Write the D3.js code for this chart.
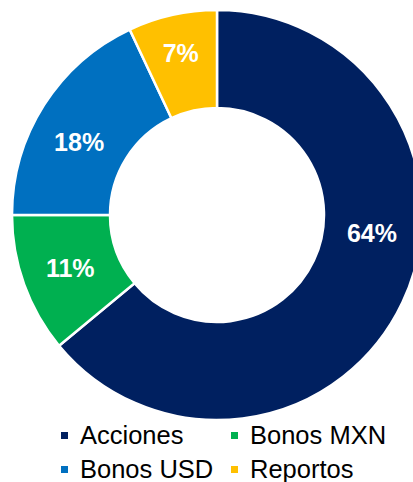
<!DOCTYPE html>
<html>
<head>
<meta charset="utf-8">
<script src="https://cdn.jsdelivr.net/npm/d3@7"></script>
<style>
  html, body { margin: 0; padding: 0; background: #fff; }
  svg { display: block; font-family: "Liberation Sans", Arial, sans-serif; }
</style>
</head>
<body>
<div id="chart"></div>
<script>
var categories = ["Acciones", "Bonos MXN", "Bonos USD", "Reportos"];
var values = [64, 11, 18, 7];
var colors = ["#002060", "#00B050", "#0070C0", "#FFC000"];
var legendOrder = ["Acciones", "Bonos MXN", "Bonos USD", "Reportos"];

var width = 413, height = 482;
var cx = 217, cy = 215;
var outerR = 205, innerR = 107;

var svg = d3.select("#chart").append("svg")
    .attr("width", width)
    .attr("height", height);

var data = categories.map(function(c, i) {
    return {name: c, value: values[i], color: colors[i]};
});

var pie = d3.pie()
    .value(function(d) { return d.value; })
    .sort(null);

var arc = d3.arc()
    .innerRadius(innerR)
    .outerRadius(outerR);

var g = svg.append("g").attr("transform", "translate(" + cx + "," + cy + ")");

var arcs = pie(data);

g.selectAll(".slice").data(arcs).enter().append("path")
    .attr("class", "slice")
    .attr("d", arc)
    .attr("fill", function(d) { return d.data.color; })
    .attr("stroke", "#fff")
    .attr("stroke-width", 2.5);

// label angle: the wider slices keep their label a bit before the middle, as in the original
function labelPos(d) {
    var span = d.endAngle - d.startAngle;
    var f = span > Math.PI ? 0.42 : (span > 1 ? 0.43 : 0.5);
    var a = d.startAngle + span * f;
    var r = span < 0.5 ? 166 : 156;
    return [Math.sin(a) * r, -Math.cos(a) * r];
}

g.selectAll(".lbl").data(arcs).enter().append("text")
    .attr("class", "lbl")
    .attr("x", function(d) { return labelPos(d)[0]; })
    .attr("y", function(d) { return labelPos(d)[1]; })
    .attr("text-anchor", "middle")
    .attr("dominant-baseline", "central")
    .attr("fill", "#fff")
    .attr("font-weight", "bold")
    .attr("font-size", "25px")
    .text(function(d) { return d.data.value + "%"; });

// legend, two columns
var legX = d3.scalePoint().domain([0, 1]).range([61, 231]);
var legY = d3.scalePoint().domain([0, 1]).range([444, 478]);

var leg = svg.selectAll(".leg").data(legendOrder).enter().append("g")
    .attr("class", "leg")
    .attr("transform", function(d, i) {
        return "translate(" + legX(i % 2) + "," + legY(Math.floor(i / 2)) + ")";
    });

leg.append("rect")
    .attr("x", 0)
    .attr("y", -12)
    .attr("width", 7)
    .attr("height", 7)
    .attr("fill", function(d) { return colors[categories.indexOf(d)]; });

leg.append("text")
    .attr("x", 19)
    .attr("y", 0)
    .attr("font-size", "25.5px")
    .attr("fill", "#000")
    .text(function(d) { return d; });
</script>
</body>
</html>
